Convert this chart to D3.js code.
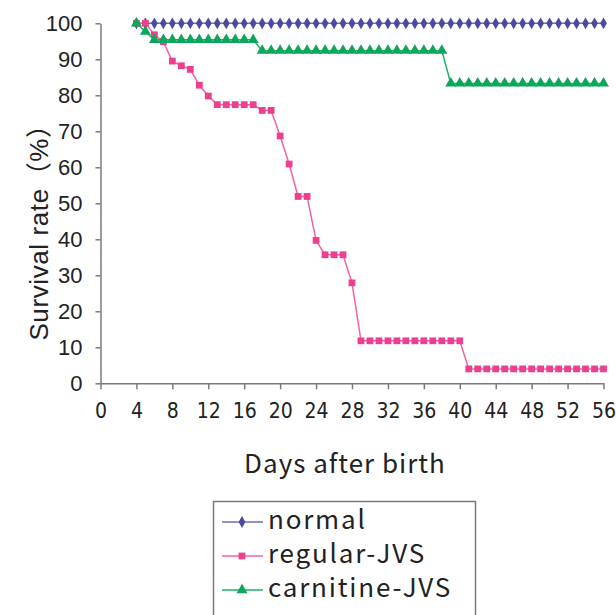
<!DOCTYPE html>
<html>
<head lang="en">
    <meta charset="UTF-8">
    <title>survival</title>
    <style>
        body { margin: 0; background: #fff; }
        svg { display: block; }
        .axis path, .axis line { stroke: #7a7a7a; stroke-width: 1.5px; }
        .y-axis text { font-family: "Liberation Sans", Arial, sans-serif; font-size: 22px; fill: #222; }
        .x-axis text { font-family: "Liberation Sans Narrow", "DejaVu Sans Condensed", sans-serif; font-size: 21px; fill: #222; }
        .title { font-family: "Noto Sans CJK JP", "Noto Sans", sans-serif; fill: #222; }
    </style>
</head>
<body>
<svg width="616" height="615"></svg>

<script src="https://cdn.jsdelivr.net/npm/d3@7/dist/d3.min.js"></script>
<script>
    var days = [4,5,6,7,8,9,10,11,12,13,14,15,16,17,18,19,20,21,22,23,24,25,26,27,28,29,30,
        31,32,33,34,35,36,37,38,39,40,41,42,43,44,45,46,47,48,49,50,51,52,53,54,55,56];

    var normal = [100,100,100,100,100,100,100,100,100,100,100,100,100,100,100,100,100,100,100,100,
        100,100,100,100,100,100,100,100,100,100,100,100,100,100,100,100,100,100,100,100,100,100,100,
        100,100,100,100,100,100,100,100,100,100];

    var regularJVS = [100,100,96.8,94.9,89.5,88.2,87.2,82.8,79.8,77.4,77.4,77.4,77.4,77.4,75.8,75.8,
        68.7,60.9,51.9,51.9,39.7,35.7,35.7,35.7,27.9,11.8,11.8,11.8,11.8,11.8,11.8,11.8,11.8,11.8,
        11.8,11.8,11.8,4.0,4.0,4.0,4.0,4.0,4.0,4.0,4.0,4.0,4.0,4.0,4.0,4.0,4.0,4.0,4.0];

    var carnitineJVS = [100,97.7,95.4,95.4,95.4,95.4,95.4,95.4,95.4,95.4,95.4,95.4,95.4,95.4,
        92.4,92.4,92.4,92.4,92.4,92.4,92.4,92.4,92.4,92.4,92.4,92.4,92.4,92.4,92.4,92.4,92.4,92.4,
        92.4,92.4,92.4,83.3,83.3,83.3,83.3,83.3,83.3,83.3,83.3,83.3,83.3,83.3,83.3,83.3,83.3,83.3,
        83.3,83.3,83.3];

    var seriesNames = ["normal", "regular-JVS", "carnitine-JVS"];
    var xTicks = [0,4,8,12,16,20,24,28,32,36,40,44,48,52,56];
    var yTicks = [0,10,20,30,40,50,60,70,80,90,100];

    var series = [
        {name: seriesNames[0], values: normal, line: "#6f6fbb", fill: "#4a4aa0", shape: d3.symbolDiamond, size: 40},
        {name: seriesNames[1], values: regularJVS, line: "#f062a4", fill: "#ec3f8f", shape: d3.symbolSquare, size: 46},
        {name: seriesNames[2], values: carnitineJVS, line: "#1cb069", fill: "#0aa75a", shape: d3.symbolTriangle, size: 52}
    ];

    var svg = d3.select("svg");

    var x = d3.scaleLinear().domain([0, 56]).range([100.5, 603.5]);
    var y = d3.scaleLinear().domain([0, 100]).range([383.3, 23.3]);

    svg.append("g")
            .attr("class", "axis y-axis")
            .attr("transform", "translate(100.5,0)")
            .call(d3.axisLeft(y).tickValues(yTicks).tickSize(5).tickSizeOuter(0).tickPadding(13));

    svg.append("g")
            .attr("class", "axis x-axis")
            .attr("transform", "translate(0,383.3)")
            .call(d3.axisBottom(x).tickValues(xTicks).tickSize(6).tickSizeOuter(0).tickPadding(14));

    var line = d3.line()
            .x(function (d, i) { return x(days[i]); })
            .y(function (d) { return y(d); });

    series.forEach(function (s) {
        var g = svg.append("g");
        g.append("path")
                .attr("d", line(s.values))
                .attr("fill", "none")
                .attr("stroke", s.line)
                .attr("stroke-width", 1.5);
        g.selectAll("path.pt")
                .data(s.values)
                .enter()
                .append("path")
                .attr("class", "pt")
                .attr("d", d3.symbol().type(s.shape).size(s.size))
                .attr("fill", s.fill)
                .attr("transform", function (d, i) {
                    return "translate(" + x(days[i]) + "," + y(d) + ")";
                });
    });

    // axis titles
    svg.append("text")
            .attr("class", "title")
            .attr("x", 345)
            .attr("y", 473)
            .attr("text-anchor", "middle")
            .style("font-size", "26px")
            .style("letter-spacing", "1px")
            .text("Days after birth");

    svg.append("text")
            .attr("class", "title")
            .attr("transform", "translate(48,226) rotate(-90)")
            .attr("text-anchor", "middle")
            .style("font-family", "'Liberation Sans', 'Noto Sans CJK JP', sans-serif")
            .style("font-size", "26px")
            .style("letter-spacing", "0.6px")
            .text("Survival rate（%）");

    // legend
    var legend = svg.append("g");
    legend.append("rect")
            .attr("x", 213.5)
            .attr("y", 501.5)
            .attr("width", 262)
            .attr("height", 130)
            .attr("fill", "#fff")
            .attr("stroke", "#7a7a7a")
            .attr("stroke-width", 1.5);

    var rows = legend.selectAll("g.row")
            .data(series)
            .enter()
            .append("g")
            .attr("class", "row")
            .attr("transform", function (d, i) { return "translate(0," + (522 + i * 34) + ")"; });

    rows.append("line")
            .attr("x1", 222).attr("x2", 263)
            .attr("y1", 0).attr("y2", 0)
            .attr("stroke", function (d) { return d.line; })
            .attr("stroke-width", 1.5);

    rows.append("path")
            .attr("d", function (d) { return d3.symbol().type(d.shape).size(d.size)(); })
            .attr("fill", function (d) { return d.fill; })
            .attr("transform", "translate(242,0)");

    rows.append("text")
            .attr("class", "title")
            .attr("x", 268)
            .attr("y", 7)
            .style("font-size", "26px")
            .style("letter-spacing", "1.8px")
            .text(function (d) { return d.name; });
</script>
</body>
</html>
